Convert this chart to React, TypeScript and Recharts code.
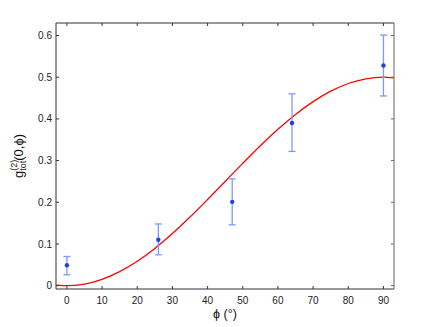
import React from 'react';
import { ComposedChart, Line, Scatter, XAxis, YAxis, ErrorBar } from 'recharts';

// Measured points (angle in degrees, g2 value, error bar low/high)
const phiValues = [0, 26, 47, 64, 90];
const g2Values = [0.049, 0.11, 0.201, 0.39, 0.528];
const g2Low = [0.026, 0.074, 0.146, 0.322, 0.455];
const g2High = [0.07, 0.148, 0.256, 0.46, 0.601];

// Red theory curve
const curvePhi = [-3, 0, 5, 10, 15, 20, 25, 30, 35, 40, 45, 50, 55, 60, 65, 70, 75, 80, 85, 90, 93];
const curveG2 = [0.0014, 0, 0.0038, 0.0151, 0.0335, 0.0585, 0.0893, 0.125, 0.1645, 0.2066, 0.25, 0.2934, 0.3355, 0.375, 0.4107, 0.4415, 0.4665, 0.4849, 0.4962, 0.5, 0.4986];

const xTicks = [0, 10, 20, 30, 40, 50, 60, 70, 80, 90];
const yTicks = [0, 0.1, 0.2, 0.3, 0.4, 0.5, 0.6];
const yTickLabels = ['0', '0.1', '0.2', '0.3', '0.4', '0.5', '0.6'];

const points = phiValues.map((x, i) => ({
  x,
  y: g2Values[i],
  err: [g2Values[i] - g2Low[i], g2High[i] - g2Values[i]],
}));
const curve = curvePhi.map((x, i) => ({ x, y: curveG2[i] }));

const FONT = '"Liberation Sans", Arial, sans-serif';
const AXIS = '#333';
const XDOMAIN: [number, number] = [-3.1, 93];
const YDOMAIN: [number, number] = [-0.008, 0.63];

const YLabel = () => (
  <text
    transform="rotate(-90, 23, 156)"
    x={23}
    y={156}
    textAnchor="middle"
    fontFamily={FONT}
    fontSize={13}
    fill="#111"
  >
    <tspan>g</tspan>
    <tspan fontSize={9} dy={-6}>(2)</tspan>
    <tspan fontSize={9} dx={-11} dy={9}>tot</tspan>
    <tspan dy={-3}>(0,ϕ)</tspan>
  </text>
);

const XLabel = () => (
  <text x={225} y={318} textAnchor="middle" fontFamily={FONT} fontSize={12.5} fill="#111">
    ϕ (°)
  </text>
);

const Dot = (props: any) => {
  const { cx, cy } = props;
  return <circle cx={cx} cy={cy} r={2.2} fill="#1f3fe8" />;
};

const NoShape = () => <g />;

export default function App() {
  return (
    <div style={{ position: 'absolute', left: 0, top: 0, background: '#fff' }}>
      <ComposedChart
        width={436}
        height={327}
        margin={{ top: 22, right: 41, left: 0, bottom: 0 }}
        style={{ fontFamily: FONT }}
      >
        <XAxis
          xAxisId="b"
          dataKey="x"
          type="number"
          domain={XDOMAIN}
          ticks={xTicks}
          allowDataOverflow
          height={38}
          tickSize={-3}
          tickMargin={11}
          stroke={AXIS}
          tick={{ fill: '#222', fontSize: 10, fontFamily: FONT }}
          label={<XLabel />}
        />
        <XAxis
          xAxisId="t"
          dataKey="x"
          orientation="top"
          type="number"
          domain={XDOMAIN}
          ticks={xTicks}
          allowDataOverflow
          height={1}
          tickSize={-3}
          tickMargin={0}
          stroke={AXIS}
          tickFormatter={() => ''}
        />
        <YAxis
          yAxisId="l"
          type="number"
          domain={YDOMAIN}
          ticks={yTicks}
          allowDataOverflow
          width={56}
          tickSize={-3}
          tickMargin={7}
          stroke={AXIS}
          tickFormatter={(v: number) => yTickLabels[yTicks.indexOf(v)] ?? String(v)}
          tick={{ fill: '#222', fontSize: 10, fontFamily: FONT }}
          label={<YLabel />}
        />
        <YAxis
          yAxisId="r"
          orientation="right"
          type="number"
          domain={YDOMAIN}
          ticks={yTicks}
          allowDataOverflow
          width={1}
          tickSize={-3}
          tickMargin={0}
          stroke="#666"
          tickFormatter={() => ''}
        />
        <Line
          xAxisId="b"
          yAxisId="l"
          data={curve}
          dataKey="y"
          type="monotone"
          stroke="#ff0000"
          strokeWidth={1.3}
          dot={false}
          activeDot={false}
          isAnimationActive={false}
        />
        <Scatter
          xAxisId="t"
          yAxisId="r"
          data={points}
          dataKey="y"
          shape={<NoShape />}
          isAnimationActive={false}
        />
        <Scatter
          xAxisId="b"
          yAxisId="l"
          data={points}
          dataKey="y"
          shape={<Dot />}
          isAnimationActive={false}
        >
          <ErrorBar dataKey="err" direction="y" width={3.5} stroke="#7d98ff" strokeWidth={1.3} isAnimationActive={false} />
        </Scatter>
      </ComposedChart>
    </div>
  );
}
